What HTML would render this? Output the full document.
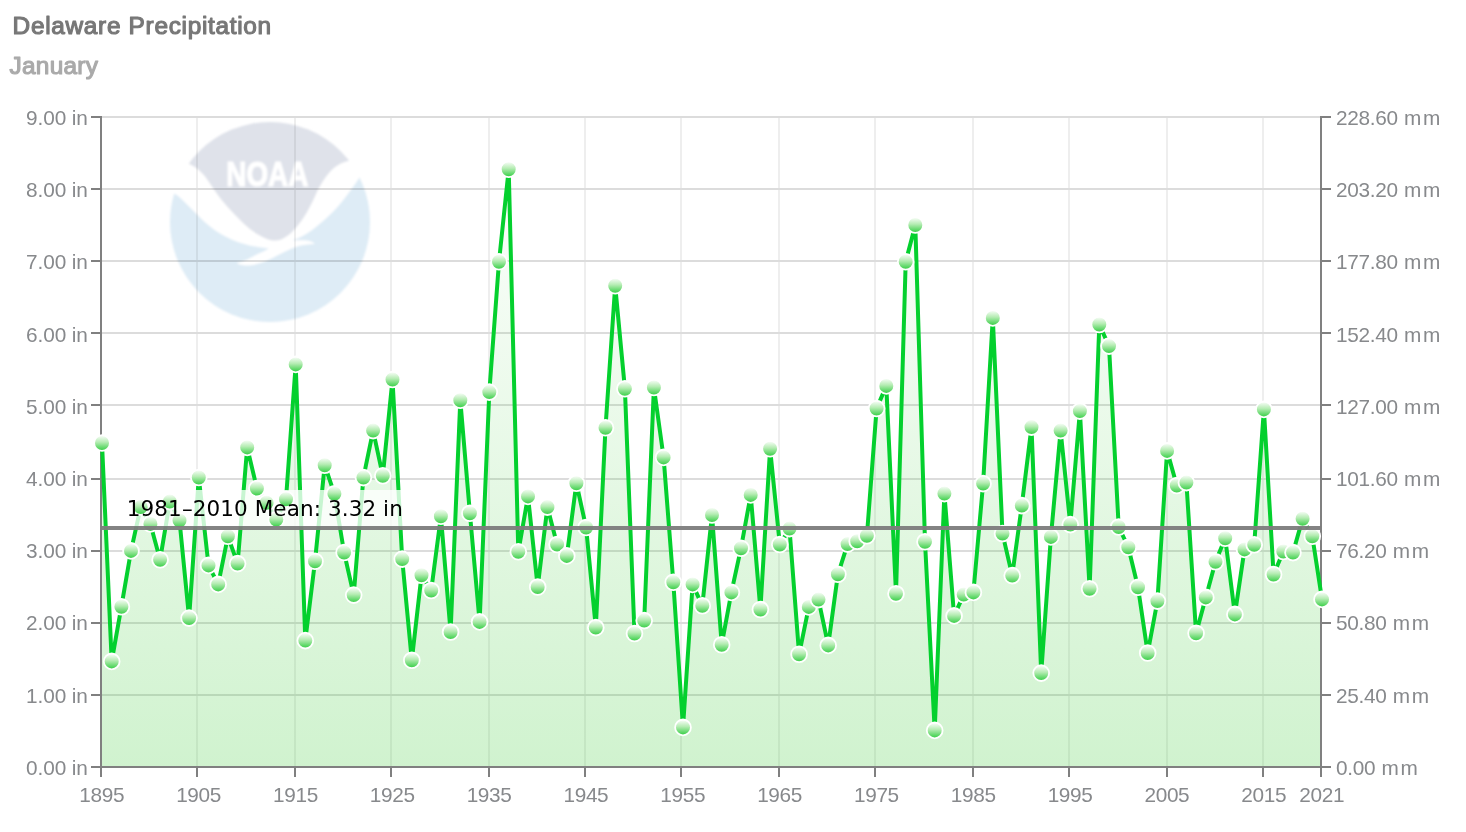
<!DOCTYPE html>
<html lang="en"><head><meta charset="utf-8"><title>Delaware Precipitation - January</title>
<style>
html,body{margin:0;padding:0;background:#fff;}
body{width:1466px;height:832px;overflow:hidden;}
svg{display:block;}
.t{font-family:"Liberation Sans",sans-serif;font-size:20.8px;fill:#87898c;}
.title{font-family:"Liberation Sans",sans-serif;font-weight:normal;font-size:24.4px;stroke-width:1.15px;stroke-linejoin:round;}
.mean{font-family:"DejaVu Sans","Liberation Sans",sans-serif;font-size:21.5px;fill:#000;}
.noaa{font-family:"Liberation Sans",sans-serif;font-weight:bold;font-size:35px;fill:#fff;stroke:#fff;stroke-width:1.2px;stroke-linejoin:miter;}
</style></head><body>
<svg width="1466" height="832" viewBox="0 0 1466 832">
<defs>
<linearGradient id="fillg" gradientUnits="userSpaceOnUse" x1="0" y1="140" x2="0" y2="767"><stop offset="0" stop-color="#2ec828" stop-opacity="0"/><stop offset="1" stop-color="#2ec828" stop-opacity="0.225"/></linearGradient>
<linearGradient id="mk" x1="0" y1="0" x2="0" y2="1"><stop offset="0" stop-color="#ffffff"/><stop offset="0.45" stop-color="#b4ecb2"/><stop offset="1" stop-color="#30cd40"/></linearGradient>
<clipPath id="lc"><circle cx="270" cy="222" r="100"/></clipPath>
<filter id="bl" x="-5%" y="-5%" width="110%" height="110%"><feGaussianBlur stdDeviation="0.9"/></filter>
</defs>
<rect x="0" y="0" width="1466" height="832" fill="#fff"/>
<g filter="url(#bl)"><g clip-path="url(#lc)">
<rect x="165" y="117" width="210" height="210" fill="#fff"/>
<path d="M 165 188 L 175 193.9 C 178 195.5 180 197.5 182.5 200 L 197.6 215 C 202 219.5 207 224.5 212.6 228.5 C 217 231.8 222 235 227.6 237.6 C 232 239.8 237 241.9 242.6 243.6 C 247 245 252 246.1 257.7 246.9 L 268.9 248.4 C 265 250.5 261.5 252.3 257.7 254.1 C 254 255.9 251 257.7 247.2 259.4 C 243.5 261 240 262.2 236.6 263.1 C 239 264.6 241.5 265.3 244.1 265.4 C 247 265.6 250 265.4 253.2 264.9 C 257 264.3 261 263.2 265.2 261.6 C 270 259.6 275 256.8 280.2 254.1 C 285 251.6 290 249.1 295.2 247.3 C 300 245.6 305 244.7 310.3 244.3 L 314.8 243.9 C 313.5 242.6 312 241.8 310.3 241.3 C 308 240.6 305.5 240.4 302.7 240.3 L 292.2 240.3 C 296 239.3 299.5 237.9 302.7 236.1 C 308 233.1 313 229.6 317.8 225.5 C 323 221.2 328 216.8 332.8 212 C 336.5 208.3 340 204.3 343.3 200 C 349 192.8 354.5 185.6 359.1 178.1 L 364 170 L 380 170 L 380 330 L 160 330 L 160 188 Z" fill="#deecf6"/>
<path d="M 160 110 L 380 110 L 380 150 L 349 160.8 C 346 161.5 343 162.5 340.3 163.8 C 336.5 165.8 333 168.6 329.8 172.1 C 325 177.3 321 184.3 317.8 190.1 L 313.3 200 C 310.5 205.8 307.5 211.5 304.3 216.5 C 301.5 220.9 298.5 225 295.2 228.5 C 292 232.3 288.5 235.6 284.7 237.6 C 282 239.4 279 240.5 275.7 240.6 C 272 240.7 268.5 239.9 265.2 238.3 C 260 235.9 255 232.9 250.2 229.3 C 245 225.1 240 220.2 235.1 215 C 230.5 210.2 226 205.2 221.6 200 C 216.5 193.5 211 185 205.1 176.5 C 200 170 194.5 166 188.2 163.4 L 160 150 Z" fill="#dfe2ea"/>
<text class="noaa" x="267.3" y="185.8" text-anchor="middle" textLength="82" lengthAdjust="spacingAndGlyphs">NOAA</text>
</g></g>
<g style="mix-blend-mode:multiply" stroke-width="2" fill="none">
<g stroke="#eeeeee">
<line x1="197" y1="118" x2="197" y2="766"/>
<line x1="295" y1="118" x2="295" y2="766"/>
<line x1="391" y1="118" x2="391" y2="766"/>
<line x1="489" y1="118" x2="489" y2="766"/>
<line x1="585" y1="118" x2="585" y2="766"/>
<line x1="681" y1="118" x2="681" y2="766"/>
<line x1="779" y1="118" x2="779" y2="766"/>
<line x1="875" y1="118" x2="875" y2="766"/>
<line x1="973" y1="118" x2="973" y2="766"/>
<line x1="1069" y1="118" x2="1069" y2="766"/>
<line x1="1167" y1="118" x2="1167" y2="766"/>
<line x1="1263" y1="118" x2="1263" y2="766"/>
</g><g stroke="#dcdcdc">
<line x1="102" y1="117" x2="1320" y2="117"/>
<line x1="102" y1="189" x2="1320" y2="189"/>
<line x1="102" y1="261" x2="1320" y2="261"/>
<line x1="102" y1="333" x2="1320" y2="333"/>
<line x1="102" y1="405" x2="1320" y2="405"/>
<line x1="102" y1="479" x2="1320" y2="479"/>
<line x1="102" y1="551" x2="1320" y2="551"/>
<line x1="102" y1="623" x2="1320" y2="623"/>
<line x1="102" y1="695" x2="1320" y2="695"/>
</g></g>
<path d="M102.0 443.0 L111.7 661.4 L121.4 606.7 L131.0 550.9 L140.7 507.0 L150.4 523.9 L160.1 559.7 L169.8 501.6 L179.5 520.5 L189.1 618.1 L198.8 477.5 L208.5 565.4 L218.2 584.4 L227.9 536.3 L237.6 563.6 L247.2 447.4 L256.9 488.5 L266.6 502.8 L276.3 519.6 L286.0 499.2 L295.7 364.4 L305.3 640.6 L315.0 561.2 L324.7 465.2 L334.4 493.8 L344.1 552.5 L353.7 595.1 L363.4 477.6 L373.1 430.6 L382.8 475.8 L392.5 379.5 L402.2 559.1 L411.8 660.2 L421.5 575.2 L431.2 590.5 L440.9 516.3 L450.6 632.0 L460.3 400.2 L469.9 513.3 L479.6 621.9 L489.3 392.1 L499.0 261.7 L508.7 169.2 L518.3 551.8 L528.0 496.4 L537.7 587.0 L547.4 507.1 L557.1 544.5 L566.8 555.9 L576.4 483.3 L586.1 527.5 L595.8 627.6 L605.5 427.7 L615.2 285.7 L624.9 388.8 L634.5 633.5 L644.2 620.6 L653.9 387.5 L663.6 457.4 L673.3 582.2 L683.0 727.4 L692.6 584.4 L702.3 605.7 L712.0 515.0 L721.7 644.7 L731.4 592.4 L741.0 548.2 L750.7 494.9 L760.4 609.5 L770.1 448.7 L779.8 544.5 L789.5 528.6 L799.1 654.3 L808.8 606.9 L818.5 599.6 L828.2 645.4 L837.9 574.3 L847.6 544.1 L857.2 541.2 L866.9 535.8 L876.6 408.5 L886.3 385.9 L896.0 593.7 L905.7 261.7 L915.3 225.0 L925.0 541.7 L934.7 730.4 L944.4 493.6 L954.1 615.9 L963.7 594.6 L973.4 592.4 L983.1 483.6 L992.8 317.9 L1002.5 533.6 L1012.2 575.6 L1021.8 505.6 L1031.5 427.1 L1041.2 673.1 L1050.9 536.9 L1060.6 430.6 L1070.3 524.6 L1079.9 411.1 L1089.6 588.7 L1099.3 324.5 L1109.0 346.1 L1118.7 527.0 L1128.3 547.2 L1138.0 587.2 L1147.7 653.0 L1157.4 601.1 L1167.1 450.9 L1176.8 485.5 L1186.4 482.6 L1196.1 633.3 L1205.8 597.4 L1215.5 561.8 L1225.2 538.2 L1234.9 614.4 L1244.5 549.4 L1254.2 544.8 L1263.9 409.4 L1273.6 574.5 L1283.3 551.5 L1293.0 552.6 L1302.6 518.7 L1312.3 536.2 L1322.0 599.4 L1322.0 767 L102.0 767 Z" fill="url(#fillg)"/>
<g stroke="#808080" stroke-width="2" fill="none">
<line x1="101" y1="116" x2="101" y2="768"/>
<line x1="1321" y1="116" x2="1321" y2="768"/>
<line x1="100" y1="767" x2="1322" y2="767"/>
<line x1="91" y1="117" x2="101" y2="117"/>
<line x1="1321" y1="117" x2="1331" y2="117"/>
<line x1="91" y1="189" x2="101" y2="189"/>
<line x1="1321" y1="189" x2="1331" y2="189"/>
<line x1="91" y1="261" x2="101" y2="261"/>
<line x1="1321" y1="261" x2="1331" y2="261"/>
<line x1="91" y1="333" x2="101" y2="333"/>
<line x1="1321" y1="333" x2="1331" y2="333"/>
<line x1="91" y1="405" x2="101" y2="405"/>
<line x1="1321" y1="405" x2="1331" y2="405"/>
<line x1="91" y1="479" x2="101" y2="479"/>
<line x1="1321" y1="479" x2="1331" y2="479"/>
<line x1="91" y1="551" x2="101" y2="551"/>
<line x1="1321" y1="551" x2="1331" y2="551"/>
<line x1="91" y1="623" x2="101" y2="623"/>
<line x1="1321" y1="623" x2="1331" y2="623"/>
<line x1="91" y1="695" x2="101" y2="695"/>
<line x1="1321" y1="695" x2="1331" y2="695"/>
<line x1="91" y1="767" x2="101" y2="767"/>
<line x1="1321" y1="767" x2="1331" y2="767"/>
<line x1="101" y1="767" x2="101" y2="777"/>
<line x1="197" y1="767" x2="197" y2="777"/>
<line x1="295" y1="767" x2="295" y2="777"/>
<line x1="391" y1="767" x2="391" y2="777"/>
<line x1="489" y1="767" x2="489" y2="777"/>
<line x1="585" y1="767" x2="585" y2="777"/>
<line x1="681" y1="767" x2="681" y2="777"/>
<line x1="779" y1="767" x2="779" y2="777"/>
<line x1="875" y1="767" x2="875" y2="777"/>
<line x1="973" y1="767" x2="973" y2="777"/>
<line x1="1069" y1="767" x2="1069" y2="777"/>
<line x1="1167" y1="767" x2="1167" y2="777"/>
<line x1="1263" y1="767" x2="1263" y2="777"/>
<line x1="1321" y1="767" x2="1321" y2="777"/>
</g>
<path d="M102.0 443.0 L111.7 661.4 L121.4 606.7 L131.0 550.9 L140.7 507.0 L150.4 523.9 L160.1 559.7 L169.8 501.6 L179.5 520.5 L189.1 618.1 L198.8 477.5 L208.5 565.4 L218.2 584.4 L227.9 536.3 L237.6 563.6 L247.2 447.4 L256.9 488.5 L266.6 502.8 L276.3 519.6 L286.0 499.2 L295.7 364.4 L305.3 640.6 L315.0 561.2 L324.7 465.2 L334.4 493.8 L344.1 552.5 L353.7 595.1 L363.4 477.6 L373.1 430.6 L382.8 475.8 L392.5 379.5 L402.2 559.1 L411.8 660.2 L421.5 575.2 L431.2 590.5 L440.9 516.3 L450.6 632.0 L460.3 400.2 L469.9 513.3 L479.6 621.9 L489.3 392.1 L499.0 261.7 L508.7 169.2 L518.3 551.8 L528.0 496.4 L537.7 587.0 L547.4 507.1 L557.1 544.5 L566.8 555.9 L576.4 483.3 L586.1 527.5 L595.8 627.6 L605.5 427.7 L615.2 285.7 L624.9 388.8 L634.5 633.5 L644.2 620.6 L653.9 387.5 L663.6 457.4 L673.3 582.2 L683.0 727.4 L692.6 584.4 L702.3 605.7 L712.0 515.0 L721.7 644.7 L731.4 592.4 L741.0 548.2 L750.7 494.9 L760.4 609.5 L770.1 448.7 L779.8 544.5 L789.5 528.6 L799.1 654.3 L808.8 606.9 L818.5 599.6 L828.2 645.4 L837.9 574.3 L847.6 544.1 L857.2 541.2 L866.9 535.8 L876.6 408.5 L886.3 385.9 L896.0 593.7 L905.7 261.7 L915.3 225.0 L925.0 541.7 L934.7 730.4 L944.4 493.6 L954.1 615.9 L963.7 594.6 L973.4 592.4 L983.1 483.6 L992.8 317.9 L1002.5 533.6 L1012.2 575.6 L1021.8 505.6 L1031.5 427.1 L1041.2 673.1 L1050.9 536.9 L1060.6 430.6 L1070.3 524.6 L1079.9 411.1 L1089.6 588.7 L1099.3 324.5 L1109.0 346.1 L1118.7 527.0 L1128.3 547.2 L1138.0 587.2 L1147.7 653.0 L1157.4 601.1 L1167.1 450.9 L1176.8 485.5 L1186.4 482.6 L1196.1 633.3 L1205.8 597.4 L1215.5 561.8 L1225.2 538.2 L1234.9 614.4 L1244.5 549.4 L1254.2 544.8 L1263.9 409.4 L1273.6 574.5 L1283.3 551.5 L1293.0 552.6 L1302.6 518.7 L1312.3 536.2 L1322.0 599.4" fill="none" stroke="#04d02e" stroke-width="4" stroke-linejoin="round" stroke-linecap="round"/>
<rect x="124" y="490" width="279" height="36.5" fill="#fff" fill-opacity="0.78"/>
<g fill="url(#mk)" stroke="#fff" stroke-width="1.8">
<circle cx="102.0" cy="443.0" r="7.9"/>
<circle cx="111.7" cy="661.4" r="7.9"/>
<circle cx="121.4" cy="606.7" r="7.9"/>
<circle cx="131.0" cy="550.9" r="7.9"/>
<circle cx="140.7" cy="507.0" r="7.9"/>
<circle cx="150.4" cy="523.9" r="7.9"/>
<circle cx="160.1" cy="559.7" r="7.9"/>
<circle cx="169.8" cy="501.6" r="7.9"/>
<circle cx="179.5" cy="520.5" r="7.9"/>
<circle cx="189.1" cy="618.1" r="7.9"/>
<circle cx="198.8" cy="477.5" r="7.9"/>
<circle cx="208.5" cy="565.4" r="7.9"/>
<circle cx="218.2" cy="584.4" r="7.9"/>
<circle cx="227.9" cy="536.3" r="7.9"/>
<circle cx="237.6" cy="563.6" r="7.9"/>
<circle cx="247.2" cy="447.4" r="7.9"/>
<circle cx="256.9" cy="488.5" r="7.9"/>
<circle cx="266.6" cy="502.8" r="7.9"/>
<circle cx="276.3" cy="519.6" r="7.9"/>
<circle cx="286.0" cy="499.2" r="7.9"/>
<circle cx="295.7" cy="364.4" r="7.9"/>
<circle cx="305.3" cy="640.6" r="7.9"/>
<circle cx="315.0" cy="561.2" r="7.9"/>
<circle cx="324.7" cy="465.2" r="7.9"/>
<circle cx="334.4" cy="493.8" r="7.9"/>
<circle cx="344.1" cy="552.5" r="7.9"/>
<circle cx="353.7" cy="595.1" r="7.9"/>
<circle cx="363.4" cy="477.6" r="7.9"/>
<circle cx="373.1" cy="430.6" r="7.9"/>
<circle cx="382.8" cy="475.8" r="7.9"/>
<circle cx="392.5" cy="379.5" r="7.9"/>
<circle cx="402.2" cy="559.1" r="7.9"/>
<circle cx="411.8" cy="660.2" r="7.9"/>
<circle cx="421.5" cy="575.2" r="7.9"/>
<circle cx="431.2" cy="590.5" r="7.9"/>
<circle cx="440.9" cy="516.3" r="7.9"/>
<circle cx="450.6" cy="632.0" r="7.9"/>
<circle cx="460.3" cy="400.2" r="7.9"/>
<circle cx="469.9" cy="513.3" r="7.9"/>
<circle cx="479.6" cy="621.9" r="7.9"/>
<circle cx="489.3" cy="392.1" r="7.9"/>
<circle cx="499.0" cy="261.7" r="7.9"/>
<circle cx="508.7" cy="169.2" r="7.9"/>
<circle cx="518.3" cy="551.8" r="7.9"/>
<circle cx="528.0" cy="496.4" r="7.9"/>
<circle cx="537.7" cy="587.0" r="7.9"/>
<circle cx="547.4" cy="507.1" r="7.9"/>
<circle cx="557.1" cy="544.5" r="7.9"/>
<circle cx="566.8" cy="555.9" r="7.9"/>
<circle cx="576.4" cy="483.3" r="7.9"/>
<circle cx="586.1" cy="527.5" r="7.9"/>
<circle cx="595.8" cy="627.6" r="7.9"/>
<circle cx="605.5" cy="427.7" r="7.9"/>
<circle cx="615.2" cy="285.7" r="7.9"/>
<circle cx="624.9" cy="388.8" r="7.9"/>
<circle cx="634.5" cy="633.5" r="7.9"/>
<circle cx="644.2" cy="620.6" r="7.9"/>
<circle cx="653.9" cy="387.5" r="7.9"/>
<circle cx="663.6" cy="457.4" r="7.9"/>
<circle cx="673.3" cy="582.2" r="7.9"/>
<circle cx="683.0" cy="727.4" r="7.9"/>
<circle cx="692.6" cy="584.4" r="7.9"/>
<circle cx="702.3" cy="605.7" r="7.9"/>
<circle cx="712.0" cy="515.0" r="7.9"/>
<circle cx="721.7" cy="644.7" r="7.9"/>
<circle cx="731.4" cy="592.4" r="7.9"/>
<circle cx="741.0" cy="548.2" r="7.9"/>
<circle cx="750.7" cy="494.9" r="7.9"/>
<circle cx="760.4" cy="609.5" r="7.9"/>
<circle cx="770.1" cy="448.7" r="7.9"/>
<circle cx="779.8" cy="544.5" r="7.9"/>
<circle cx="789.5" cy="528.6" r="7.9"/>
<circle cx="799.1" cy="654.3" r="7.9"/>
<circle cx="808.8" cy="606.9" r="7.9"/>
<circle cx="818.5" cy="599.6" r="7.9"/>
<circle cx="828.2" cy="645.4" r="7.9"/>
<circle cx="837.9" cy="574.3" r="7.9"/>
<circle cx="847.6" cy="544.1" r="7.9"/>
<circle cx="857.2" cy="541.2" r="7.9"/>
<circle cx="866.9" cy="535.8" r="7.9"/>
<circle cx="876.6" cy="408.5" r="7.9"/>
<circle cx="886.3" cy="385.9" r="7.9"/>
<circle cx="896.0" cy="593.7" r="7.9"/>
<circle cx="905.7" cy="261.7" r="7.9"/>
<circle cx="915.3" cy="225.0" r="7.9"/>
<circle cx="925.0" cy="541.7" r="7.9"/>
<circle cx="934.7" cy="730.4" r="7.9"/>
<circle cx="944.4" cy="493.6" r="7.9"/>
<circle cx="954.1" cy="615.9" r="7.9"/>
<circle cx="963.7" cy="594.6" r="7.9"/>
<circle cx="973.4" cy="592.4" r="7.9"/>
<circle cx="983.1" cy="483.6" r="7.9"/>
<circle cx="992.8" cy="317.9" r="7.9"/>
<circle cx="1002.5" cy="533.6" r="7.9"/>
<circle cx="1012.2" cy="575.6" r="7.9"/>
<circle cx="1021.8" cy="505.6" r="7.9"/>
<circle cx="1031.5" cy="427.1" r="7.9"/>
<circle cx="1041.2" cy="673.1" r="7.9"/>
<circle cx="1050.9" cy="536.9" r="7.9"/>
<circle cx="1060.6" cy="430.6" r="7.9"/>
<circle cx="1070.3" cy="524.6" r="7.9"/>
<circle cx="1079.9" cy="411.1" r="7.9"/>
<circle cx="1089.6" cy="588.7" r="7.9"/>
<circle cx="1099.3" cy="324.5" r="7.9"/>
<circle cx="1109.0" cy="346.1" r="7.9"/>
<circle cx="1118.7" cy="527.0" r="7.9"/>
<circle cx="1128.3" cy="547.2" r="7.9"/>
<circle cx="1138.0" cy="587.2" r="7.9"/>
<circle cx="1147.7" cy="653.0" r="7.9"/>
<circle cx="1157.4" cy="601.1" r="7.9"/>
<circle cx="1167.1" cy="450.9" r="7.9"/>
<circle cx="1176.8" cy="485.5" r="7.9"/>
<circle cx="1186.4" cy="482.6" r="7.9"/>
<circle cx="1196.1" cy="633.3" r="7.9"/>
<circle cx="1205.8" cy="597.4" r="7.9"/>
<circle cx="1215.5" cy="561.8" r="7.9"/>
<circle cx="1225.2" cy="538.2" r="7.9"/>
<circle cx="1234.9" cy="614.4" r="7.9"/>
<circle cx="1244.5" cy="549.4" r="7.9"/>
<circle cx="1254.2" cy="544.8" r="7.9"/>
<circle cx="1263.9" cy="409.4" r="7.9"/>
<circle cx="1273.6" cy="574.5" r="7.9"/>
<circle cx="1283.3" cy="551.5" r="7.9"/>
<circle cx="1293.0" cy="552.6" r="7.9"/>
<circle cx="1302.6" cy="518.7" r="7.9"/>
<circle cx="1312.3" cy="536.2" r="7.9"/>
<circle cx="1322.0" cy="599.4" r="7.9"/>
</g>
<line x1="101" y1="528" x2="1321" y2="528" stroke="#7c7c7c" stroke-opacity="0.95" stroke-width="4"/>
<text class="mean" x="126.8" y="516" textLength="276" lengthAdjust="spacing">1981–2010 Mean: 3.32 in</text>
<g class="t">
<text x="87.8" y="124.8" text-anchor="end" letter-spacing="-0.1">9.00 in</text>
<text x="1336" y="124.8"><tspan letter-spacing="-0.3">228.60</tspan> <tspan dx="0.4" letter-spacing="1.7">mm</tspan></text>
<text x="87.8" y="197.0" text-anchor="end" letter-spacing="-0.1">8.00 in</text>
<text x="1336" y="197.0"><tspan letter-spacing="-0.3">203.20</tspan> <tspan dx="0.4" letter-spacing="1.7">mm</tspan></text>
<text x="87.8" y="269.2" text-anchor="end" letter-spacing="-0.1">7.00 in</text>
<text x="1336" y="269.2"><tspan letter-spacing="-0.3">177.80</tspan> <tspan dx="0.4" letter-spacing="1.7">mm</tspan></text>
<text x="87.8" y="341.5" text-anchor="end" letter-spacing="-0.1">6.00 in</text>
<text x="1336" y="341.5"><tspan letter-spacing="-0.3">152.40</tspan> <tspan dx="0.4" letter-spacing="1.7">mm</tspan></text>
<text x="87.8" y="413.7" text-anchor="end" letter-spacing="-0.1">5.00 in</text>
<text x="1336" y="413.7"><tspan letter-spacing="-0.3">127.00</tspan> <tspan dx="0.4" letter-spacing="1.7">mm</tspan></text>
<text x="87.8" y="485.9" text-anchor="end" letter-spacing="-0.1">4.00 in</text>
<text x="1336" y="485.9"><tspan letter-spacing="-0.3">101.60</tspan> <tspan dx="0.4" letter-spacing="1.7">mm</tspan></text>
<text x="87.8" y="558.1" text-anchor="end" letter-spacing="-0.1">3.00 in</text>
<text x="1336" y="558.1"><tspan letter-spacing="-0.3">76.20</tspan> <tspan dx="0.4" letter-spacing="1.7">mm</tspan></text>
<text x="87.8" y="630.4" text-anchor="end" letter-spacing="-0.1">2.00 in</text>
<text x="1336" y="630.4"><tspan letter-spacing="-0.3">50.80</tspan> <tspan dx="0.4" letter-spacing="1.7">mm</tspan></text>
<text x="87.8" y="702.6" text-anchor="end" letter-spacing="-0.1">1.00 in</text>
<text x="1336" y="702.6"><tspan letter-spacing="-0.3">25.40</tspan> <tspan dx="0.4" letter-spacing="1.7">mm</tspan></text>
<text x="87.8" y="774.8" text-anchor="end" letter-spacing="-0.1">0.00 in</text>
<text x="1336" y="774.8"><tspan letter-spacing="-0.3">0.00</tspan> <tspan dx="0.4" letter-spacing="1.7">mm</tspan></text>
<text x="101.8" y="802.2" text-anchor="middle" letter-spacing="-0.35">1895</text>
<text x="198.6" y="802.2" text-anchor="middle" letter-spacing="-0.35">1905</text>
<text x="295.5" y="802.2" text-anchor="middle" letter-spacing="-0.35">1915</text>
<text x="392.3" y="802.2" text-anchor="middle" letter-spacing="-0.35">1925</text>
<text x="489.1" y="802.2" text-anchor="middle" letter-spacing="-0.35">1935</text>
<text x="585.9" y="802.2" text-anchor="middle" letter-spacing="-0.35">1945</text>
<text x="682.8" y="802.2" text-anchor="middle" letter-spacing="-0.35">1955</text>
<text x="779.6" y="802.2" text-anchor="middle" letter-spacing="-0.35">1965</text>
<text x="876.4" y="802.2" text-anchor="middle" letter-spacing="-0.35">1975</text>
<text x="973.2" y="802.2" text-anchor="middle" letter-spacing="-0.35">1985</text>
<text x="1070.1" y="802.2" text-anchor="middle" letter-spacing="-0.35">1995</text>
<text x="1166.9" y="802.2" text-anchor="middle" letter-spacing="-0.35">2005</text>
<text x="1263.7" y="802.2" text-anchor="middle" letter-spacing="-0.35">2015</text>
<text x="1321.8" y="802.2" text-anchor="middle" letter-spacing="-0.35">2021</text>
</g>
<text class="title" x="12.6" y="33.8" fill="#777" stroke="#777" letter-spacing="0.69">Delaware Precipitation</text>
<text class="title" x="9.6" y="73.7" fill="#aaa" stroke="#aaa" letter-spacing="0.25">January</text>
</svg></body></html>
